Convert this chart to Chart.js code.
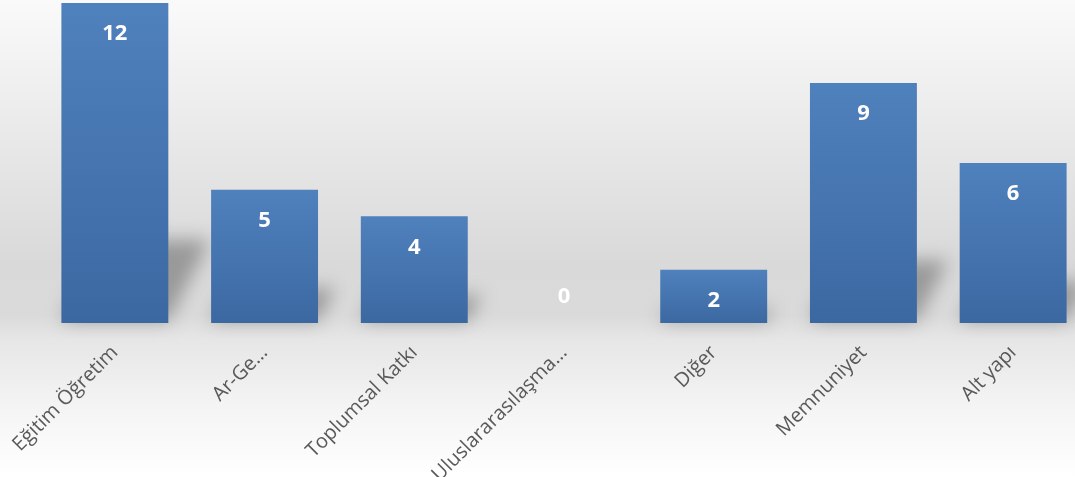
<!DOCTYPE html>
<html>
<head>
<meta charset="utf-8">
<script src="https://cdn.jsdelivr.net/npm/chart.js@4/dist/chart.umd.min.js"></script>
<style>
  html, body { margin: 0; padding: 0; overflow: hidden; }
  body {
    width: 1075px; height: 477px;
    background: linear-gradient(to bottom, #fafafa 0%, #e8e8e8 30%, #d9d9d9 55%, #dadada 66%, #e6e6e6 71%, #f4f4f4 85%, #ffffff 100%);
  }
  #wrap { position: absolute; left: 0; top: 0; width: 1088px; height: 477px; }
</style>
</head>
<body>
<div id="wrap"><canvas id="chart" width="1088" height="477"></canvas></div>
<script>
// Kategoriler ve değerler
const categories = ['Eğitim Öğretim', 'Ar-Ge…', 'Toplumsal Katkı', 'Uluslararasılaşma…', 'Diğer', 'Memnuniyet', 'Alt yapı'];
const counts = [12, 5, 4, 0, 2, 9, 6];
const yMin = 0;
const yMax = 12;

// Perspective shadow behind each bar
const barShadow = {
    id: 'barShadow',
    beforeDatasetsDraw: function (chart) {
        const ctx = chart.ctx;
        const meta = chart.getDatasetMeta(0);
        ctx.save();
        ctx.filter = 'blur(9px)';
        ctx.fillStyle = 'rgba(100,100,100,0.55)';
        meta.data.forEach(function (bar) {
            const h = bar.base - bar.y;
            if (h <= 0) return;
            const dy = h * 0.26;
            const dx = dy * 0.5;
            const x0 = bar.x - bar.width / 2;
            const x1 = bar.x + bar.width / 2;
            ctx.beginPath();
            ctx.moveTo(x0, bar.base - 2);
            ctx.lineTo(x1, bar.base - 2);
            ctx.lineTo(x1 + dx, bar.base - dy);
            ctx.lineTo(x0 + dx, bar.base - dy);
            ctx.closePath();
            ctx.fill();
        });
        ctx.restore();
    }
};

// White value labels near the top of each bar
const valueLabels = {
    id: 'valueLabels',
    afterDatasetsDraw: function (chart) {
        const ctx = chart.ctx;
        const meta = chart.getDatasetMeta(0);
        ctx.save();
        ctx.fillStyle = '#ffffff';
        ctx.font = 'bold 22px "Open Sans", sans-serif';
        ctx.textAlign = 'center';
        ctx.textBaseline = 'middle';
        meta.data.forEach(function (bar, i) {
            const v = counts[i];
            const y = v === 0 ? bar.y - 26 : bar.y + 31;
            ctx.fillText(String(v), bar.x, y);
        });
        ctx.restore();
    }
};

new Chart(document.getElementById('chart'), {
    type: 'bar',
    data: {
        labels: categories,
        datasets: [{
            data: counts,
            backgroundColor: function (c) {
                const chart = c.chart;
                const area = chart.chartArea;
                const ys = chart.scales.y;
                if (!area || !ys || c.raw === undefined) return '#4a7ab5';
                const top = ys.getPixelForValue(c.raw);
                const bottom = ys.getPixelForValue(0);
                if (!(bottom - top > 1)) return '#4f81bd';
                const g = chart.ctx.createLinearGradient(0, top, 0, bottom);
                g.addColorStop(0, '#4f81bd');
                g.addColorStop(1, '#3c68a1');
                return g;
            },
            borderWidth: 0,
            categoryPercentage: 1,
            barPercentage: 1 / 1.4
        }]
    },
    options: {
        responsive: false,
        animation: false,
        layout: { padding: { left: 40, right: 0, top: 3, bottom: 0 } },
        plugins: {
            legend: { display: false },
            tooltip: { enabled: false }
        },
        scales: {
            x: {
                grid: { display: false },
                border: { display: false },
                ticks: {
                    color: '#595959',
                    font: { family: '"Open Sans", sans-serif', size: 20 },
                    minRotation: 45,
                    maxRotation: 45,
                    autoSkip: false,
                    padding: 10
                },
                afterFit: function (s) {
                    s.paddingLeft = 0;
                    s.paddingRight = 0;
                    s.height = 154;
                }
            },
            y: {
                display: false,
                min: yMin,
                max: yMax
            }
        }
    },
    plugins: [barShadow, valueLabels]
});
</script>
</body>
</html>
